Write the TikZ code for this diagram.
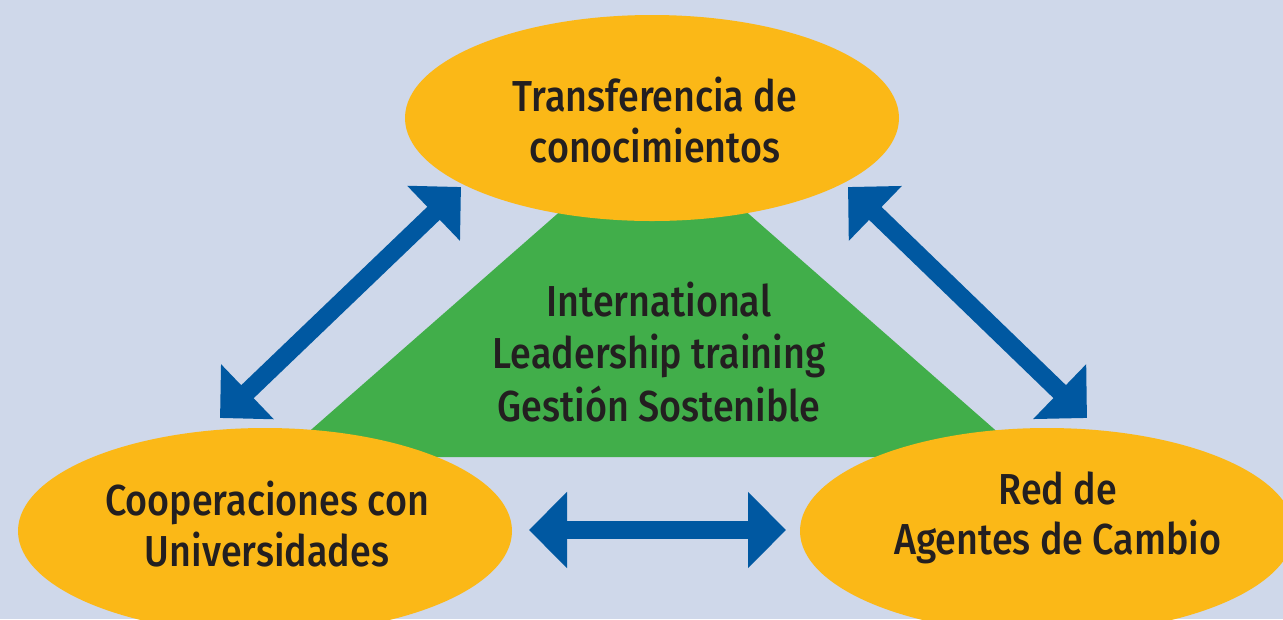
\documentclass[tikz,border=0pt]{standalone}
\usepackage{fontspec}
\IfFontExistsTF{Fira Sans Medium}
  {\setmainfont{Fira Sans Medium}[FakeStretch=0.87]}
  {\setmainfont{Fira Sans}[FakeStretch=0.88,FakeBold=2]}
\usetikzlibrary{shapes.geometric,arrows.meta}
\definecolor{bgc}{HTML}{CFD8EA}
\definecolor{orangec}{HTML}{FBB817}
\definecolor{greenc}{HTML}{41AE4A}
\definecolor{bluec}{HTML}{0058A1}
\definecolor{txtc}{HTML}{231F20}
\tikzset{
  oval/.style={ellipse, fill=orangec, draw=none, inner sep=0pt, outer sep=0pt,
    minimum width=370.5pt, minimum height=154.5pt},
  lbl/.style={text=txtc, align=center, font=\fontsize{32.5}{38}\selectfont, inner sep=0pt},
  biarrow/.style={draw=bluec, line width=13.5pt,
    arrows={Triangle[length=28.5pt,width=55.5pt]-Triangle[length=28.5pt,width=55.5pt]}}
}
\begin{document}
\begin{tikzpicture}[x=0.75pt,y=-0.75pt]
\useasboundingbox (0,0) rectangle (1283,619);
\fill[bgc] (0,0) rectangle (1283,619);
\clip (0,0) rectangle (1283,619);
% central triangle
\fill[greenc] (280,457) -- (1026,457) -- (653,130) -- cycle;
% ellipses
\node[oval] (top) at (652,118) {};
\node[oval] (left) at (265,531) {};
\node[oval] (right) at (1047,531) {};
% texts
\node[lbl] (toptxt) at (655,120) {Transferencia de\\conocimientos};
\node[lbl] (lefttxt) at (267,524) {Cooperaciones con\\Universidades};
\node[lbl] (righttxt) at (1058,518) {Red de\\Agentes de Cambio};
\node[lbl, font=\fontsize{32.5}{39.5}\selectfont] (center) at (659,352) {International\\Leadership training\\Gestión Sostenible};
% arrow ends
\coordinate (a1) at (220,418);
\coordinate (a2) at (461,187);
\coordinate (b1) at (848,187);
\coordinate (b2) at (1087,418);
\coordinate (c1) at (529,530);
\coordinate (c2) at (786,530);
\draw[biarrow] (a1) -- (a2);
\draw[biarrow] (b1) -- (b2);
\draw[biarrow] (c1) -- (c2);
\end{tikzpicture}
\end{document}
